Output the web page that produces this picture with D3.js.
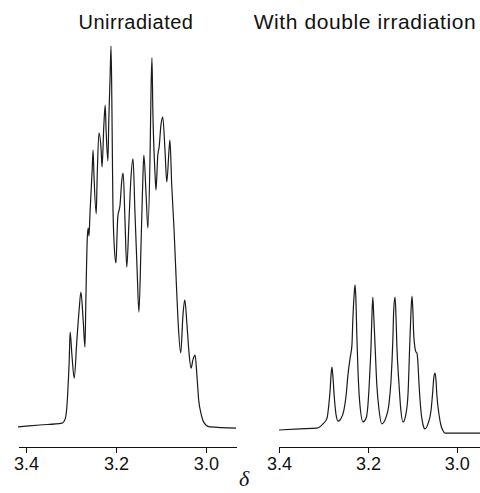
<!DOCTYPE html>
<head>
  <meta charset='utf-8'>
  <style>
      body {
        margin: 0;
        background: white;
      }

      .title {
        font-family: 'Liberation Sans', Arial, sans-serif;
        font-size: 20px;
        letter-spacing: 0.5px;
        fill: #111;
        text-anchor: middle;
      }

      .title.wide {
        font-size: 21px;
        letter-spacing: 0.6px;
      }

      .axis path,
      .axis line {
        stroke: #111;
        stroke-width: 1px;
        shape-rendering: crispEdges;
      }

      .axis text {
        font-family: 'Liberation Sans', Arial, sans-serif;
        font-size: 18px;
        fill: #111;
      }

      .spectrum {
        fill: none;
        stroke: #1a1a1a;
        stroke-width: 1.2px;
        stroke-linejoin: round;
      }

      .delta {
        font-family: 'Liberation Serif', 'DejaVu Serif', serif;
        font-style: italic;
        font-size: 22px;
        fill: #111;
      }
  </style>
</head>
<body>
<script src='https://d3js.org/d3.v7.min.js'></script>
<script>
    // chemical shift (ppm) and relative intensity
    var unirrPpm = [
        3.418, 3.369, 3.320, 3.313, 3.309, 3.307, 3.304, 3.302, 3.298, 3.293,
        3.287, 3.282, 3.278, 3.273, 3.269, 3.267, 3.264, 3.262, 3.260, 3.258,
        3.253, 3.251, 3.249, 3.244, 3.242, 3.238, 3.233, 3.231, 3.227, 3.224,
        3.222, 3.218, 3.216, 3.213, 3.211, 3.209, 3.207, 3.204, 3.200, 3.198,
        3.196, 3.191, 3.187, 3.184, 3.180, 3.176, 3.171, 3.167, 3.162, 3.158,
        3.153, 3.149, 3.144, 3.140, 3.138, 3.133, 3.129, 3.124, 3.122, 3.120,
        3.118, 3.113, 3.111, 3.107, 3.104, 3.100, 3.096, 3.091, 3.087, 3.082,
        3.080, 3.076, 3.071, 3.067, 3.062, 3.056, 3.051, 3.047, 3.042, 3.038,
        3.033, 3.029, 3.024, 3.020, 3.016, 3.011, 3.007, 3.000, 2.991, 2.933
    ];
    var unirrInt = [
        0.8, 1.3, 1.8, 2.9, 6.5, 10.4, 18.2, 25.5, 19.5, 13.5,
        23.4, 31.3, 35.9, 28.6, 21.6, 33.9, 49.5, 52.6, 50.5, 56.0,
        67.7, 72.9, 66.4, 56.3, 65.1, 77.3, 72.9, 68.5, 79.4, 84.6,
        78.1, 70.1, 80.7, 92.4, 100, 83.3, 59.9, 48.2, 43.5, 49.5,
        55.5, 58.6, 65.1, 66.9, 54.7, 42.4, 54.7, 65.1, 70.6, 57.3,
        41.7, 30.7, 49.5, 66.4, 71.6, 61.2, 52.6, 72.9, 88.5, 96.9,
        83.3, 66.4, 62.5, 71.6, 73.7, 79.4, 81.5, 72.9, 64.6, 72.9,
        75.5, 63.8, 52.6, 41.7, 28.6, 20.1, 29.9, 33.9, 27.3, 20.8,
        16.1, 18.2, 19.5, 14.3, 7.8, 4.4, 2.6, 1.3, 0.8, 0.5
    ];

    var irrPpm = [
        3.400, 3.353, 3.315, 3.301, 3.292, 3.288, 3.285, 3.283, 3.281, 3.279,
        3.276, 3.272, 3.267, 3.261, 3.254, 3.249, 3.245, 3.240, 3.236, 3.234,
        3.231, 3.229, 3.227, 3.225, 3.222, 3.218, 3.211, 3.204, 3.200, 3.196,
        3.193, 3.191, 3.189, 3.187, 3.184, 3.180, 3.175, 3.169, 3.160, 3.153,
        3.148, 3.144, 3.142, 3.139, 3.137, 3.135, 3.130, 3.126, 3.121, 3.115,
        3.110, 3.106, 3.103, 3.101, 3.099, 3.097, 3.092, 3.090, 3.088, 3.085,
        3.081, 3.076, 3.072, 3.065, 3.058, 3.054, 3.052, 3.049, 3.047, 3.045,
        3.040, 3.036, 3.032, 3.027, 2.993, 2.948
    ];
    var irrInt = [
        0, 0.3, 0.5, 1.6, 3.1, 6.5, 10.4, 14.3, 16.4, 14.3,
        9.1, 4.2, 2.3, 2.9, 5.2, 9.1, 14.3, 18.8, 22.1, 28.6,
        35.2, 37.8, 33.9, 24.7, 14.3, 6.5, 2.1, 3.1, 6.5, 14.3,
        22.1, 29.9, 34.6, 29.9, 22.1, 11.7, 5.2, 1.6, 3.1, 6.5,
        13.0, 23.4, 31.3, 34.6, 29.9, 22.1, 11.7, 5.2, 2.1, 3.9,
        9.1, 22.1, 31.3, 34.9, 31.3, 24.7, 20.3, 20.1, 18.2, 11.7,
        5.2, 1.3, 0.3, 1.6, 5.2, 10.4, 13.5, 14.8, 13.0, 9.1,
        3.9, 1.3, 0, -0.8, -0.8, -0.8
    ];

    var tickValues = [3.4, 3.2, 3.0];
    var titles = ['Unirradiated', 'With double irradiation'];

    var W = 480,
        H = 493,
        axisY = 447;

    var svg = d3.select('body')
        .append('svg')
            .attr('width', W)
            .attr('height', H);

    var yScale = d3.scaleLinear()
        .domain([0, 100])
        .range([430, 46]);

    var panels = [
        {
            title: titles[0],
            titleX: 136,
            cls: 'title',
            ppm: unirrPpm,
            vals: unirrInt,
            x: d3.scaleLinear().domain([3.418, 2.933]).range([18, 236])
        },
        {
            title: titles[1],
            titleX: 365,
            cls: 'title wide',
            ppm: irrPpm,
            vals: irrInt,
            x: d3.scaleLinear().domain([3.4, 2.948]).range([279, 480])
        }
    ];

    panels.forEach(function(p) {
        var line = d3.line()
            .x(function(d, i) { return p.x(p.ppm[i]); })
            .y(function(d) { return yScale(d); })
            .curve(d3.curveMonotoneX);

        svg.append('path')
            .datum(p.vals)
            .attr('class', 'spectrum')
            .attr('d', line);

        var axis = d3.axisBottom(p.x)
            .tickValues(tickValues)
            .tickFormat(d3.format('.1f'))
            .tickSizeInner(6)
            .tickSizeOuter(0)
            .tickPadding(4);

        svg.append('g')
            .attr('class', 'axis')
            .attr('transform', 'translate(0,' + axisY + ')')
            .call(axis);

        svg.append('text')
            .attr('class', p.cls)
            .attr('x', p.titleX)
            .attr('y', 29)
            .text(p.title);
    });

    svg.append('text')
        .attr('class', 'delta')
        .attr('x', 239)
        .attr('y', 486)
        .text('δ');
</script>
</body>
